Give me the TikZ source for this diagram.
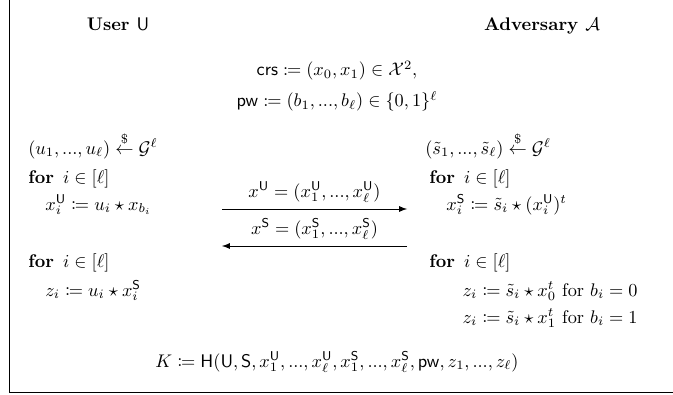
\documentclass[tikz,border=0pt]{standalone}
\usepackage{amsmath,amssymb,mathtools}
\usepackage{tikz}
\usetikzlibrary{arrows, positioning}

\begin{document}
\begin{tikzpicture}[x=0.547pt, y=-0.547pt, >=latex]
% Define styles
\tikzstyle{party} = [font=\bfseries, anchor=base, inner sep=0pt]
\tikzstyle{line} = [anchor=base west, inner sep=0pt]
\tikzstyle{lineR} = [anchor=base east, inner sep=0pt]
\tikzstyle{centre} = [anchor=base, inner sep=0pt]
\tikzstyle{msg} = [line width=0.5pt, ->]
\tikzstyle{frame} = [line width=0.7pt]

\useasboundingbox (0,0) rectangle (673,394);

% Parties and public values
\node (user) [party] at (118,31) {User $\mathsf{U}$};
\node (adv) [party] at (542,31) {Adversary $\mathcal{A}$};
\node (crs) [centre] at (337,76) {$\mathsf{crs} \coloneqq (x_0, x_1) \in \mathcal{X}^2,$};
\node (pw) [centre] at (337,107) {$\mathsf{pw} \coloneqq (b_1, ..., b_\ell) \in \{0,1\}^\ell$};

% User side
\node (sampU) [line] at (28,154) {$(u_1, ..., u_\ell) \overset{\$}{\leftarrow} \mathcal{G}^\ell$};
\node (forU1) [line] at (28,183) {$\textbf{for}\ \, i \in [\ell]$};
\node (xU) [line] at (45,210) {$x_i^{\mathsf{U}} \coloneqq u_i \star x_{b_i}$};
\node (forU2) [line] at (28,267) {$\textbf{for}\ \, i \in [\ell]$};
\node (zU) [line] at (45,296) {$z_i \coloneqq u_i \star x_i^{\mathsf{S}}$};

% Adversary side
\node (sampA) [line] at (425,154) {$(\tilde{s}_1, ..., \tilde{s}_\ell) \overset{\$}{\leftarrow} \mathcal{G}^\ell$};
\node (forA1) [line] at (429,183) {$\textbf{for}\ \, i \in [\ell]$};
\node (xS) [line] at (446,210) {$x_i^{\mathsf{S}} \coloneqq \tilde{s}_i \star (x_i^{\mathsf{U}})^t$};
\node (forA2) [line] at (429,267) {$\textbf{for}\ \, i \in [\ell]$};
\node (zA0) [lineR] at (638,296) {$z_i \coloneqq \tilde{s}_i \star x_0^t$ for $b_i = 0$};
\node (zA1) [lineR] at (638,323) {$z_i \coloneqq \tilde{s}_i \star x_1^t$ for $b_i = 1$};

% Session key
\node (key) [centre] at (337,367) {$K \coloneqq \mathsf{H}(\mathsf{U}, \mathsf{S}, x_1^{\mathsf{U}}, ..., x_\ell^{\mathsf{U}}, x_1^{\mathsf{S}}, ..., x_\ell^{\mathsf{S}}, \mathsf{pw}, z_1, ..., z_\ell)$};

% Messages
\coordinate (sendL) at (222,209);
\coordinate (sendR) at (407,209);
\coordinate (recvL) at (222,246);
\coordinate (recvR) at (407,246);
\draw [msg] (sendL) -- (sendR) node[midway, above] {$x^{\mathsf{U}} = (x_1^{\mathsf{U}}, ..., x_\ell^{\mathsf{U}})$};
\draw [msg] (recvR) -- (recvL) node[midway, above] {$x^{\mathsf{S}} = (x_1^{\mathsf{S}}, ..., x_\ell^{\mathsf{S}})$};

% Frame
\draw [frame] (9.5,0) -- (9.5,392.5) -- (673,392.5);

\end{tikzpicture}
\end{document}
